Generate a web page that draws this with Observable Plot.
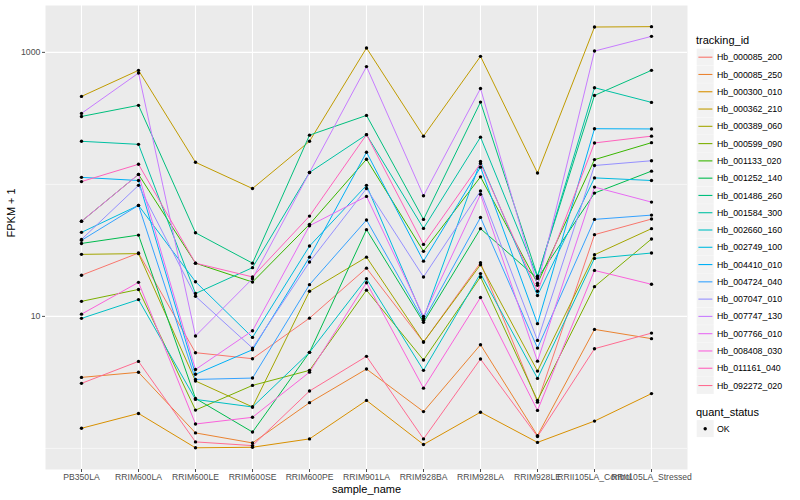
<!DOCTYPE html>
<html>
<head>
<meta charset="utf-8">
<script src="https://cdn.jsdelivr.net/npm/d3@7"></script>
<script src="https://cdn.jsdelivr.net/npm/@observablehq/plot@0.6"></script>
<style>
  html, body { margin: 0; padding: 0; background: white; }
  #wrap { position: relative; width: 800px; height: 500px; font-family: "Liberation Sans", Arial, sans-serif; }
  #legend { position: absolute; left: 0; top: 0; }
</style>
</head>
<body>
<div id="wrap"></div>
<script>
const samples = ["PB350LA", "RRIM600LA", "RRIM600LE", "RRIM600SE", "RRIM600PE", "RRIM901LA",
  "RRIM928BA", "RRIM928LA", "RRIM928LE", "RRII105LA_Control", "RRII105LA_Stressed"];

const ids = ["Hb_000085_200", "Hb_000085_250", "Hb_000300_010", "Hb_000362_210", "Hb_000389_060",
  "Hb_000599_090", "Hb_001133_020", "Hb_001252_140", "Hb_001486_260", "Hb_001584_300",
  "Hb_002660_160", "Hb_002749_100", "Hb_004410_010", "Hb_004724_040", "Hb_007047_010",
  "Hb_007747_130", "Hb_007766_010", "Hb_008408_030", "Hb_011161_040", "Hb_092272_020"];

const colors = ["#F8766D", "#EA8331", "#D89000", "#C09B00", "#A3A500", "#7CAE00", "#39B600", "#00BB4E",
  "#00BF7D", "#00C1A3", "#00BFC4", "#00BAE0", "#00B0F6", "#35A2FF", "#9590FF", "#C77CFF",
  "#E76BF3", "#FA62DB", "#FF62BC", "#FF6C91"];

// FPKM + 1, one value per sample (order of `samples`)
const hb_000085_200 = [20.5, 30.2, 5.31, 4.78, 9.7, 23.2, 6.39, 25.5, 2.24, 41.6, 54.6];
const hb_000085_250 = [3.45, 3.77, 1.31, 1.10, 2.22, 3.99, 1.90, 6.10, 1.25, 7.97, 6.78];
const hb_000300_010 = [1.42, 1.84, 1.01, 1.02, 1.18, 2.31, 1.07, 1.88, 1.11, 1.61, 2.60];
const hb_000362_210 = [464, 731, 147, 93, 212, 1079, 232, 933, 122, 1556, 1566];
const hb_000389_060 = [29.5, 29.9, 3.24, 2.06, 15.5, 28.1, 6.39, 24.6, 3.85, 29.3, 46.2];
const hb_000599_090 = [13.0, 16.0, 1.95, 3.00, 3.90, 15.8, 4.67, 19.9, 2.31, 16.8, 38.6];
const hb_001133_020 = [52.5, 119, 25.3, 18.2, 49.8, 155, 31.1, 114, 17.8, 154, 207];
const hb_001252_140 = [35.7, 41.3, 2.39, 1.33, 5.34, 45.4, 9.01, 46.2, 19.4, 85.9, 126];
const hb_001486_260 = [327, 397, 43, 25.3, 236, 333, 54.3, 420, 20.2, 472, 731];
const hb_001584_300 = [212, 201, 14.9, 23.4, 123, 238, 46.4, 228, 19.9, 540, 418];
const hb_002660_160 = [9.66, 13.4, 2.35, 2.06, 5.34, 19.3, 3.90, 21.1, 3.39, 27.5, 30.2];
const hb_002749_100 = [43.3, 69.3, 18.3, 6.93, 34.1, 98.3, 9.66, 149, 14.4, 112, 107];
const hb_004410_010 = [113, 107, 3.64, 5.59, 28.1, 175, 26.2, 135, 8.81, 264, 263];
const hb_004724_040 = [37.7, 69.3, 3.33, 3.41, 17.4, 53.7, 9.33, 56.2, 5.75, 54.3, 58.5];
const hb_007047_010 = [38.3, 98.3, 14.2, 5.75, 25.8, 93, 19.9, 89, 6.58, 139, 151];
const hb_007747_130 = [345, 697, 7.11, 19.3, 123, 780, 82, 533, 17.2, 1023, 1322];
const hb_007766_010 = [52.5, 119, 3.96, 7.79, 48.6, 81.1, 10, 84, 4.58, 95.4, 73.4];
const hb_008408_030 = [10.4, 18.1, 1.53, 1.72, 3.78, 18.0, 2.86, 13.9, 1.94, 22.3, 17.5];
const hb_011161_040 = [105, 142, 25.3, 19.9, 57.5, 238, 35.1, 144, 15.5, 206, 232];
const hb_092272_020 = [3.11, 4.56, 1.12, 1.05, 2.72, 4.98, 1.18, 4.75, 1.23, 5.69, 7.47];

const seriesValues = [hb_000085_200, hb_000085_250, hb_000300_010, hb_000362_210, hb_000389_060,
  hb_000599_090, hb_001133_020, hb_001252_140, hb_001486_260, hb_001584_300,
  hb_002660_160, hb_002749_100, hb_004410_010, hb_004724_040, hb_007047_010,
  hb_007747_130, hb_007766_010, hb_008408_030, hb_011161_040, hb_092272_020];

const yTicks = [10, 1000];
const yMinor = [1, 100];
const statusLevels = ["OK"];

const data = ids.flatMap((id, i) => seriesValues[i].map((v, j) => ({
  tracking_id: id, sample_name: samples[j], fpkm1: v, quant_status: "OK"
})));

const font = "'Liberation Sans', Arial, sans-serif";

const chart = Plot.plot({
  width: 800,
  height: 500,
  marginLeft: 45,
  marginRight: 113,
  marginTop: 5,
  marginBottom: 31,
  style: { fontFamily: font, background: "white", overflow: "visible" },
  x: { type: "point", domain: samples, padding: 0.6, axis: null },
  y: { type: "log", domain: [0.692, 2265], axis: null },
  color: { domain: ids, range: colors },
  marks: [
    Plot.frame({ fill: "#EBEBEB" }),
    Plot.ruleY(yMinor, { stroke: "white", strokeWidth: 0.55 }),
    Plot.ruleY(yTicks, { stroke: "white", strokeWidth: 1.1 }),
    Plot.ruleX(samples, { stroke: "white", strokeWidth: 1.1 }),
    Plot.line(data, { x: "sample_name", y: "fpkm1", z: "tracking_id", stroke: "tracking_id", strokeWidth: 1 }),
    Plot.dot(data, { x: "sample_name", y: "fpkm1", r: 1.7, fill: "black", stroke: "none" }),
    Plot.axisX({ tickSize: 3, tickPadding: 1, fontSize: 8.6, color: "#4D4D4D", label: null }),
    Plot.axisY(yTicks, { tickSize: 3, tickPadding: 2, fontSize: 8.8, color: "#4D4D4D", label: null, tickFormat: d => String(d) }),
    Plot.text(["sample_name"], { frameAnchor: "bottom", dy: 23, fontSize: 11, fill: "black" }),
    Plot.text(["FPKM + 1"], { frameAnchor: "left", dx: -34, rotate: -90, fontSize: 11, fill: "black" })
  ]
});

const wrap = document.getElementById("wrap");
wrap.appendChild(chart);

// legend on the right, as in the reference
const lg = d3.select(wrap).append("svg")
  .attr("id", "legend")
  .attr("width", 800).attr("height", 500)
  .style("pointer-events", "none")
  .style("font-family", font);

const lx = 696, ty = 44, row = 17.28, y0 = 48.6;
lg.append("text").attr("x", lx).attr("y", ty).attr("font-size", 11).attr("fill", "black").text("tracking_id");
ids.forEach((id, i) => {
  const y = y0 + i * row;
  lg.append("rect").attr("x", lx + 0.7).attr("y", y).attr("width", 17).attr("height", 17).attr("fill", "#F2F2F2");
  lg.append("line").attr("x1", lx + 2.4).attr("x2", lx + 16.4).attr("y1", y + 8.6).attr("y2", y + 8.6)
    .attr("stroke", colors[i]).attr("stroke-width", 1.1);
  lg.append("text").attr("x", lx + 21).attr("y", y + 8.6).attr("dy", "0.35em").attr("font-size", 8.8)
    .attr("fill", "black").text(id);
});
const qy = 415.5;
lg.append("text").attr("x", lx).attr("y", qy).attr("font-size", 11).attr("fill", "black").text("quant_status");
statusLevels.forEach((s, i) => {
  const y = qy + 4.6 + i * row;
  lg.append("rect").attr("x", lx + 0.7).attr("y", y).attr("width", 17).attr("height", 17).attr("fill", "#F2F2F2");
  lg.append("circle").attr("cx", lx + 9.2).attr("cy", y + 8.6).attr("r", 1.7).attr("fill", "black");
  lg.append("text").attr("x", lx + 21).attr("y", y + 8.6).attr("dy", "0.35em").attr("font-size", 8.8)
    .attr("fill", "black").text(s);
});
</script>
</body>
</html>
